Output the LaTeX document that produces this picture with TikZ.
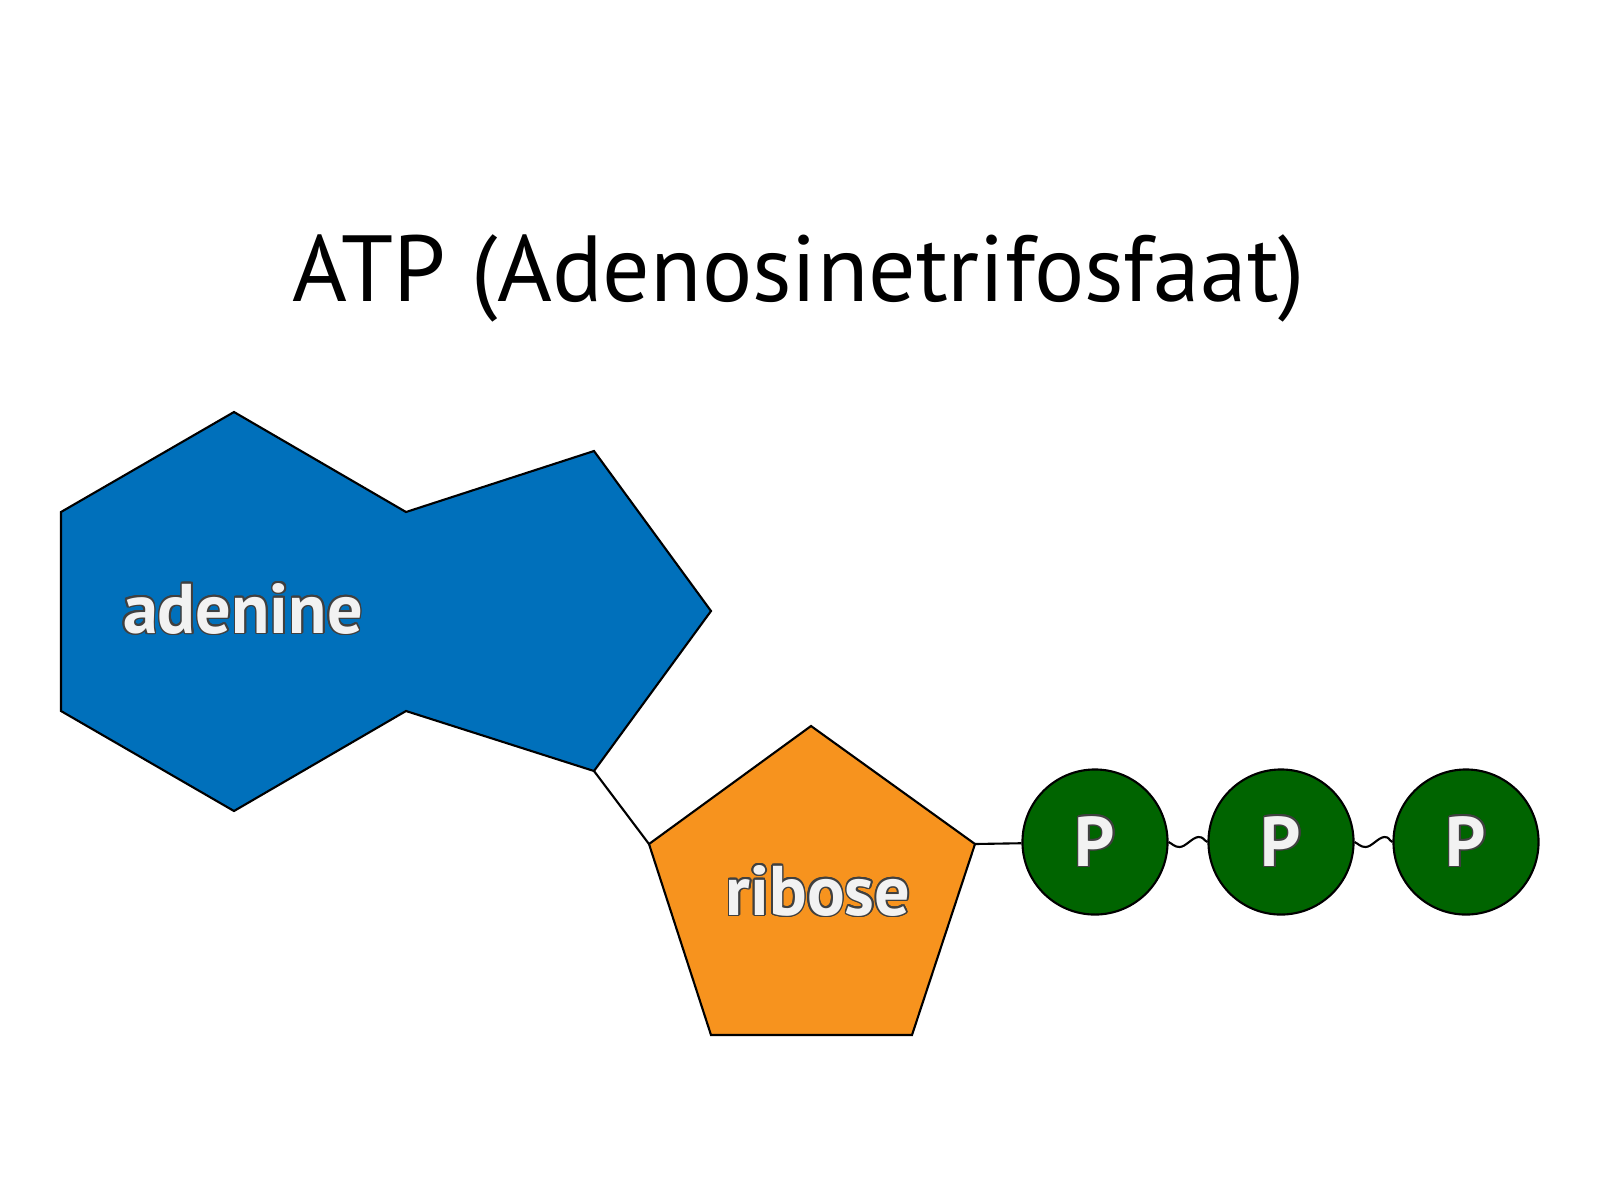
\documentclass[tikz,border=0pt]{standalone}
\usepackage{fontspec}
\setmainfont{PT Sans}
\usepackage{contour}
\contourlength{0.45pt}
\definecolor{adenineblue}{HTML}{0070BB}
\definecolor{riboseorange}{HTML}{F7931E}
\definecolor{phosgreen}{HTML}{006400}
\definecolor{labelwhite}{HTML}{F2F2F2}
\newcommand{\molname}[1]{\textcolor{labelwhite}{\contour{black!75}{#1}}}

\begin{document}
\begin{tikzpicture}[x=0.01cm,y=-0.01cm,
    part/.style={draw=black,line width=0.6pt,line join=miter},
    lbl/.style={anchor=base,inner sep=0pt,font=\bfseries\fontsize{20}{20}\selectfont},
    phos/.style={circle,draw=black,line width=0.6pt,fill=phosgreen,minimum size=1.45cm,inner sep=0pt,font=\bfseries\fontsize{20}{20}\selectfont},
    bond/.style={draw=black,line width=0.6pt}
]
\useasboundingbox (0,0) rectangle (1600,1181);
\node[anchor=base,font=\fontsize{26.7}{27}\selectfont] (title) at (799,301) {ATP (Adenosinetrifosfaat)};
\foreach \n/\x/\y in {1/61/512,2/234/412,3/406/512,4/594/451,5/711/611,6/594/771,7/406/711,8/234/811,9/61/711}
    \coordinate (a\n) at (\x,\y);
\foreach \n/\x/\y in {1/649/844,2/811/726,3/975/844,4/912/1035,5/711/1035}
    \coordinate (r\n) at (\x,\y);
\draw[part,fill=adenineblue] (a1) -- (a2) -- (a3) -- (a4) -- (a5) -- (a6) -- (a7) -- (a8) -- (a9) -- cycle;
\draw[part,fill=riboseorange] (r1) -- (r2) -- (r3) -- (r4) -- (r5) -- cycle;
\node[lbl] (adenine) at (243,633) {\molname{adenine}};
\node[lbl] (ribose) at (818,915) {\molname{ribose}};
\foreach \i/\x in {1/1095,2/1281,3/1466}
    \node[phos] (p\i) at (\x,842) {\molname{P}};
\draw[bond] (a6) -- (r1);
\draw[bond] (r3) -- (p1);
\foreach \i/\j in {1/2,2/3}
    \draw[bond] (p\i.east) .. controls +(4,2) and +(-5,0) .. ++(11,5)
        .. controls +(6,0) and +(-6,0) .. ++(19,-10)
        .. controls +(5,0) and +(-4,-2) .. (p\j.west);
\end{tikzpicture}
\end{document}
